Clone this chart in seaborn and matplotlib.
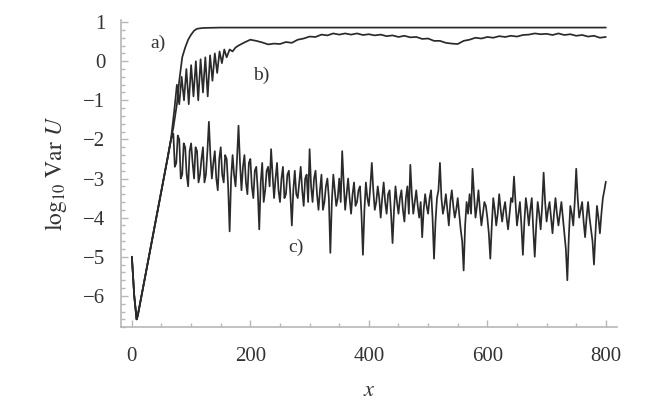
import pandas as pd
import matplotlib.pyplot as plt
import seaborn as sns
from matplotlib.ticker import MultipleLocator

# common early part: decay to the minimum, then the linear growth phase
x_rise = [0, 4, 8, 10, 20, 30, 40, 50, 60, 66]
y_rise = [-5.0, -6.0, -6.6, -6.5, -5.7, -4.9, -4.1, -3.3, -2.5, -2.0]

# curve a) saturates near 0.85
x_a = x_rise + [70, 76, 80, 85, 90, 95, 100, 105, 110, 120, 150, 200, 300,
                400, 500, 600, 700, 800]
y_a = y_rise + [-1.7, -1.1, -0.5, 0.1, 0.35, 0.55, 0.68, 0.78, 0.83, 0.85,
                0.86, 0.86, 0.86, 0.86, 0.86, 0.86, 0.86, 0.86]

# curve b) zigzag growth then slow wiggle below a)
x_b = x_rise + [72, 76, 80, 84, 88, 92, 96, 100, 104, 108, 112, 116, 120,
                124, 128, 132, 136, 140, 144, 148, 152, 156, 160, 165, 170,
                175, 180, 190, 200, 210, 220, 230, 240, 250, 260, 270, 280,
                290, 300, 310, 320, 330, 340, 350, 360, 370, 380, 390, 400,
                410, 420, 430, 440, 450, 460, 470, 480, 490, 500, 510, 520,
                530, 540, 550, 560, 570, 580, 590, 600, 610, 620, 630, 640,
                650, 660, 670, 680, 690, 700, 710, 720, 730, 740, 750, 760,
                770, 780, 790, 800]
y_b = y_rise + [-1.2, -0.6, -1.1, -0.4, -1.0, -0.2, -1.1, -0.1, -0.9, 0.0,
                -1.0, 0.05, -0.8, 0.1, -0.9, 0.15, -0.5, 0.2, -0.3, 0.25,
                -0.05, 0.3, 0.1, 0.3, 0.25, 0.35, 0.4, 0.48, 0.55, 0.52,
                0.48, 0.43, 0.45, 0.44, 0.49, 0.47, 0.55, 0.58, 0.63, 0.62,
                0.68, 0.66, 0.71, 0.68, 0.71, 0.68, 0.71, 0.67, 0.69, 0.66,
                0.68, 0.64, 0.66, 0.62, 0.65, 0.61, 0.62, 0.57, 0.58, 0.52,
                0.52, 0.47, 0.45, 0.44, 0.52, 0.55, 0.6, 0.58, 0.62, 0.6,
                0.64, 0.62, 0.65, 0.63, 0.67, 0.68, 0.71, 0.69, 0.7, 0.67,
                0.71, 0.67, 0.69, 0.65, 0.67, 0.63, 0.65, 0.6, 0.62]

# curve c) noisy decay, read on a 5-step grid plus the in-between samples
x_c = x_rise + list(range(70, 805, 5))
y_c = y_rise + [
    -1.85, -2.6, -2.0, -2.9, -2.2, -3.2, -2.1, -3.0, -2.3, -2.9,
    -2.2, -2.9, -1.55, -3.0, -2.3, -3.3, -2.2, -3.1, -2.5, -4.35,
    -2.4, -3.2, -1.65, -3.3, -2.4, -3.4, -2.5, -3.5, -2.7, -4.3,
    -2.6, -3.3, -2.7, -2.25, -3.5, -2.6, -3.6, -2.7, -3.4, -2.8,
    -4.2, -2.8, -3.5, -2.7, -3.7, -2.9, -2.25, -3.6, -2.8, -3.8,
    -2.9, -3.6, -3.0, -4.9, -2.9, -3.7, -3.0, -2.3, -3.8, -3.0,
    -3.9, -3.1, -3.6, -3.2, -4.95, -3.1, -3.7, -2.6, -3.8, -3.2,
    -4.0, -3.1, -3.9, -3.3, -4.65, -3.2, -3.9, -3.3, -4.1, -3.2,
    -2.65, -3.9, -3.3, -4.0, -4.5, -3.4, -3.9, -3.3, -5.05, -3.5,
    -2.6, -3.9, -3.4, -4.2, -3.3, -4.0, -3.5, -4.3, -5.35, -3.6,
    -3.4, -2.75, -4.0, -3.3, -4.2, -3.6, -4.0, -5.05, -3.5, -4.2,
    -3.4, -4.1, -3.6, -4.3, -3.5, -2.95, -4.2, -3.6, -4.95, -3.5,
    -4.2, -3.5, -5.0, -3.6, -4.3, -2.85, -4.1, -3.6, -4.4, -3.5,
    -4.2, -3.6, -4.4, -5.6, -3.7, -4.2, -2.75, -4.0, -3.6, -4.5,
    -3.6, -4.3, -5.2, -3.7, -4.4, -3.5, -3.08]
x_c_mid = [v + 2.5 for v in range(70, 800, 5)]
y_c_mid = [
    -2.7, -1.9, -3.0, -2.1, -2.9, -2.3, -2.6, -2.2, -3.1, -2.5,
    -3.1, -2.3, -2.4, -2.6, -3.0, -2.5, -2.9, -2.4, -3.2, -3.0,
    -2.9, -2.5, -2.6, -2.7, -3.1, -2.6, -3.2, -2.8, -3.3, -3.1,
    -3.6, -2.8, -3.2, -2.9, -3.0, -3.3, -3.0, -3.5, -2.9, -3.4,
    -3.3, -3.4, -3.1, -3.3, -3.0, -3.6, -3.2, -3.0, -3.4, -3.3,
    -3.8, -3.2, -3.5, -3.6, -3.3, -3.5, -3.6, -3.1, -3.4, -3.5,
    -3.4, -3.7, -3.3, -3.9, -3.8, -3.5, -3.2, -3.3, -3.6, -3.5,
    -3.5, -3.6, -3.4, -3.9, -3.8, -3.6, -3.5, -3.8, -3.5, -3.9,
    -3.4, -3.6, -3.7, -3.6, -3.8, -3.7, -3.5, -4.0, -4.1, -3.3,
    -3.5, -3.7, -3.8, -3.6, -3.7, -3.8, -3.9, -4.6, -4.2, -3.9,
    -3.9, -3.4, -3.7, -3.8, -3.9, -3.7, -4.4, -4.2, -3.8, -3.9,
    -3.8, -3.8, -4.0, -3.9, -3.6, -3.6, -3.9, -4.2, -4.1, -3.8,
    -3.8, -4.3, -4.2, -3.9, -3.7, -3.6, -3.8, -4.0, -3.9, -3.9,
    -3.9, -4.0, -4.8, -4.5, -3.9, -3.6, -3.5, -3.8, -4.1, -4.0,
    -4.0, -4.6, -4.4, -4.0, -3.9, -3.3]

curve_c = pd.DataFrame({'x': x_c + x_c_mid, 'y': y_c + y_c_mid})
curve_c = curve_c.sort_values('x')
curve_c['curve'] = 'c'

df = pd.concat([
    pd.DataFrame({'x': x_a, 'y': y_a, 'curve': 'a'}),
    pd.DataFrame({'x': x_b, 'y': y_b, 'curve': 'b'}),
    curve_c,
])

sns.set_theme(style='white')
plt.rcParams['font.family'] = ['Liberation Serif', 'DejaVu Serif']
plt.rcParams['mathtext.fontset'] = 'stix'

fig = plt.figure(figsize=(6.64, 4.11), dpi=100)
ax = fig.add_axes([0.182, 0.204, 0.747, 0.747])

sns.lineplot(data=df, x='x', y='y', units='curve', estimator=None,
             sort=False, color='#2a2a2a', linewidth=1.25, ax=ax)

ax.set_xlim(-18.6, 818.6)
ax.set_ylim(-6.8, 1.05)

ax.xaxis.set_major_locator(MultipleLocator(200))
ax.xaxis.set_minor_locator(MultipleLocator(50))
ax.yaxis.set_major_locator(MultipleLocator(1))
ax.yaxis.set_minor_locator(MultipleLocator(0.2))

axis_grey = '#b8b8b8'
for side in ['top', 'right']:
    ax.spines[side].set_visible(False)
for side in ['left', 'bottom']:
    ax.spines[side].set_color(axis_grey)
    ax.spines[side].set_linewidth(1.2)

ax.tick_params(which='both', direction='in', color=axis_grey, width=1.0,
               bottom=True, left=True, labelsize=15, labelcolor='#333333')
ax.tick_params(which='major', length=5)
ax.tick_params(which='minor', length=3)
ax.tick_params(axis='y', which='major', pad=11)
ax.tick_params(axis='x', which='major', pad=14)

ax.set_xlabel('$x$', fontsize=16, color='#333333', labelpad=12)
ax.set_ylabel(r'$\mathrm{log}_{10}\ \mathrm{Var}\ U$', fontsize=17,
              color='#333333', labelpad=10)

# curve labels
ax.text(44, 0.45, 'a)', fontsize=14, ha='center', va='center', color='#333333')
ax.text(218, -0.35, 'b)', fontsize=14, ha='center', va='center', color='#333333')
ax.text(277, -4.75, 'c)', fontsize=14, ha='center', va='center', color='#333333')

fig.savefig('out.png', dpi=100)
